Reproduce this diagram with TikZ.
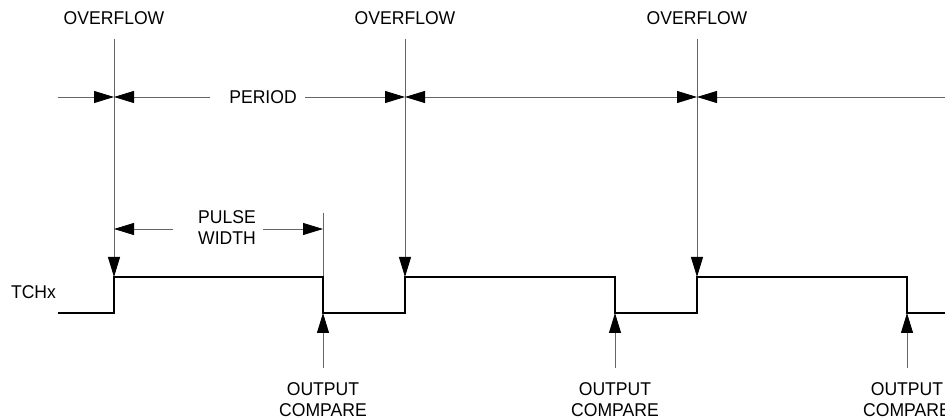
\documentclass[tikz,border=0pt]{standalone}
\usepackage{fontspec}
\setmainfont[FakeStretch=0.95]{Liberation Sans}
\usetikzlibrary{arrows.meta}
\begin{document}
\begin{tikzpicture}[x=1pt,y=-1pt,
  lbl/.style={font=\fontsize{18.5}{21}\selectfont, inner sep=0pt, align=center},
  thinln/.style={draw=black!60, line width=0.9pt},
  sig/.style={draw=black, line width=1.6pt, line join=miter},
  tri/.style={-{Triangle[length=20pt,width=12pt,color=black]}},
  tritri/.style={{Triangle[length=20pt,width=12pt,color=black]}-{Triangle[length=20pt,width=12pt,color=black]}},
]
\useasboundingbox (0,0) rectangle (945,419);

% labels
\node[lbl] (ov1) at (114,18.5) {OVERFLOW};
\node[lbl] (ov2) at (405,18.5) {OVERFLOW};
\node[lbl] (ov3) at (697,18.5) {OVERFLOW};
\node[lbl] (period) at (263,97) {PERIOD};
\node[lbl] (pw) at (227,228) {PULSE\\WIDTH};
\node[lbl] (tchx) at (33.5,292) {TCHx};
\node[lbl] (oc1) at (323,400) {OUTPUT\\COMPARE};
\node[lbl] (oc2) at (615,400) {OUTPUT\\COMPARE};
\node[lbl] (oc3) at (907,400) {OUTPUT\\COMPARE};

% coordinates
\coordinate (t1) at (114,39);
\coordinate (t2) at (405,39);
\coordinate (t3) at (697,39);
\coordinate (s0) at (58,313);
\coordinate (s1) at (114,313);
\coordinate (s2) at (114,277);
\coordinate (s3) at (323,277);
\coordinate (s4) at (323,313);
\coordinate (s5) at (405,313);
\coordinate (s6) at (405,277);
\coordinate (s7) at (615,277);
\coordinate (s8) at (615,313);
\coordinate (s9) at (697,313);
\coordinate (s10) at (697,277);
\coordinate (s11) at (907,277);
\coordinate (s12) at (907,313);
\coordinate (s13) at (945,313);

\coordinate (pl) at (58,97);
\coordinate (p1) at (114,97);
\coordinate (pa) at (210,97);
\coordinate (pb) at (305,97);
\coordinate (p2) at (405,97);
\coordinate (p3) at (697,97);
\coordinate (pr) at (945,97);

\coordinate (w1) at (114,229);
\coordinate (wa) at (173,229);
\coordinate (wb) at (263,229);
\coordinate (w2) at (323,229);
\coordinate (wt) at (323,213);

\coordinate (b1) at (323,368);
\coordinate (b2) at (615,368);
\coordinate (b3) at (907,368);

% overflow lines
\draw[thinln,tri] (t1) -- (s2);
\draw[thinln,tri] (t2) -- (s6);
\draw[thinln,tri] (t3) -- (s10);

% period line
\draw[thinln,tri] (pl) -- (p1);
\draw[thinln,tri] (pa) -- (p1);
\draw[thinln,tri] (pb) -- (p2);
\draw[thinln,tritri] (p2) -- (p3);
\draw[thinln,tri] (pr) -- (p3);

% pulse width
\draw[thinln,tri] (wa) -- (w1);
\draw[thinln,tri] (wb) -- (w2);
\draw[thinln] (wt) -- (s3);

% output compare
\draw[thinln,tri] (b1) -- (s4);
\draw[thinln,tri] (b2) -- (s8);
\draw[thinln,tri] (b3) -- (s12);

% signal
\draw[sig] (s0) -- (s1) -- (s2) -- (s3) -- (s4) -- (s5) -- (s6) -- (s7) -- (s8) -- (s9) -- (s10) -- (s11) -- (s12) -- (s13);
\end{tikzpicture}
\end{document}
